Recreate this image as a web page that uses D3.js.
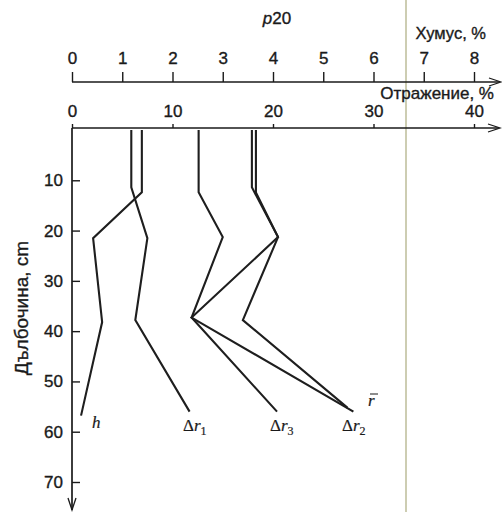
<!DOCTYPE html>
<html>
<head>
<meta charset="utf-8">
<script src="https://cdn.jsdelivr.net/npm/d3@7"></script>
<style>
  body { margin: 0; background: #fff; }
  text { font-family: "Liberation Sans", Arial, sans-serif; fill: #1a1a1a; stroke: #1a1a1a; stroke-width: 0.35px; }
  .lbl { font-family: "Liberation Serif", "Times New Roman", serif; font-style: italic; font-size: 17px; stroke-width: 0.2px; }
</style>
</head>
<body>
<div id="f1"></div>
<script>
const W = 502, H = 512;

// axis ticks
const humusTicks = [0, 1, 2, 3, 4, 5, 6, 7, 8];
const reflTicks = [0, 10, 20, 30, 40];
const depthTicks = [10, 20, 30, 40, 50, 60, 70];

// profiles: depth (cm) and value
const hDepth = [0, 12.4, 21.5, 38.2, 56.8];
const hVal = [1.39, 1.39, 0.42, 0.6, 0.18];          // humus, %
const dr1Depth = [0, 11.4, 21.5, 37.8, 56];
const dr1Val = [5.9, 5.9, 7.5, 6.3, 11.7];           // reflection, %
const dr3Depth = [0, 12.4, 21.3, 37.3, 56];
const dr3Val = [12.6, 12.6, 15.0, 11.9, 20.4];
const dr2Depth = [0, 11.4, 21.3, 37.3, 56];
const dr2Val = [17.9, 17.9, 20.5, 11.9, 28.0];
const rDepth = [0, 12.4, 21.3, 37.8, 55.2];
const rVal = [18.3, 18.3, 20.5, 17.0, 27.4];

const xHum = d3.scaleLinear().domain([0, 8]).range([72, 474]);
const xRef = d3.scaleLinear().domain([0, 40]).range([72, 474]);
const y = d3.scaleLinear().domain([0, 70]).range([130, 482]);

const svg = d3.select("#f1").append("svg").attr("width", W).attr("height", H);

// scan fold line
svg.append("line").attr("x1", 406).attr("x2", 406).attr("y1", 0).attr("y2", H)
   .attr("stroke", "#bdbd98").attr("stroke-width", 1.5);

function arrowHead(x, yy, dir){
    // dir: "right" or "down"
    let p = dir == "right"
        ? [[x - 12, yy - 4], [x, yy], [x - 12, yy + 4]]
        : [[x - 4, yy - 12], [x, yy], [x + 4, yy - 12]];
    svg.append("path").attr("d", d3.line()(p))
       .attr("fill", "none").attr("stroke", "#1a1a1a").attr("stroke-width", 1.3);
}

function styleAxis(g, fs){
    g.select(".domain").remove();
    g.selectAll(".tick line").attr("stroke", "#1a1a1a").attr("stroke-width", 1.4);
    g.selectAll(".tick text").attr("font-size", fs)
     .attr("fill", "#1a1a1a").style("font-family", "Liberation Sans, Arial, sans-serif");
}

// humus axis
const gH = svg.append("g").attr("transform", "translate(0,82)")
    .call(d3.axisTop(xHum).tickValues(humusTicks).tickSize(10).tickPadding(8));
styleAxis(gH, 17);
svg.append("line").attr("x1", 72).attr("x2", 500).attr("y1", 82).attr("y2", 82)
   .attr("stroke", "#1a1a1a").attr("stroke-width", 1.6);
arrowHead(501, 82, "right");

// reflection axis
const gR = svg.append("g").attr("transform", "translate(0,128)")
    .call(d3.axisTop(xRef).tickValues(reflTicks).tickSize(4).tickPadding(7));
styleAxis(gR, 17);
svg.append("line").attr("x1", 72).attr("x2", 499).attr("y1", 128).attr("y2", 128)
   .attr("stroke", "#1a1a1a").attr("stroke-width", 1.6);
arrowHead(500, 128, "right");

// depth axis
const gD = svg.append("g").attr("transform", "translate(72,0)")
    .call(d3.axisLeft(y).tickValues(depthTicks).tickSize(-8).tickPadding(9));
styleAxis(gD, 17);
svg.append("line").attr("x1", 72).attr("x2", 72).attr("y1", 128).attr("y2", 510)
   .attr("stroke", "#1a1a1a").attr("stroke-width", 1.7);
arrowHead(72, 510, "down");

// titles
svg.append("text").attr("x", 277).attr("y", 24).attr("text-anchor", "middle")
   .attr("font-size", 17).html('<tspan font-style="italic">p</tspan>20');
svg.append("text").attr("x", 486).attr("y", 39).attr("text-anchor", "end")
   .attr("font-size", 16.5).text("Хумус, %");
svg.append("text").attr("x", 494).attr("y", 99).attr("text-anchor", "end")
   .attr("font-size", 17).text("Отражение, %");
svg.append("text").attr("transform", "translate(28,308) rotate(-90)")
   .attr("text-anchor", "middle").attr("font-size", 19).text("Дълбочина, cm");

// profiles
const curves = [
    {d: hDepth, v: hVal, x: xHum},
    {d: dr1Depth, v: dr1Val, x: xRef},
    {d: dr3Depth, v: dr3Val, x: xRef},
    {d: dr2Depth, v: dr2Val, x: xRef},
    {d: rDepth, v: rVal, x: xRef},
];
curves.forEach(function(c){
    let pts = c.d.map((dd, i) => [c.x(c.v[i]), y(dd)]);
    svg.append("path").attr("d", d3.line()(pts))
       .attr("fill", "none").attr("stroke", "#1e1e1e").attr("stroke-width", 2.1)
       .attr("stroke-linejoin", "miter");
});

// curve labels
function lbl(x, yy, main, sub){
    let t = svg.append("text").attr("class", "lbl").attr("x", x).attr("y", yy);
    if (main.startsWith("Δ")){
        t.append("tspan").style("font-style", "normal").text("Δ");
        t.append("tspan").text(main.slice(1));
    } else {
        t.append("tspan").text(main);
    }
    if (sub) t.append("tspan").attr("dy", 4).attr("font-size", 12).style("font-style", "normal").text(sub);
}
lbl(92, 428, "h");
lbl(183, 431, "Δr", "1");
lbl(270, 431, "Δr", "3");
lbl(342, 431, "Δr", "2");
lbl(368, 406, "r");
svg.append("line").attr("x1", 370).attr("x2", 378).attr("y1", 394).attr("y2", 394)
   .attr("stroke", "#1a1a1a").attr("stroke-width", 1);
</script>
</body>
</html>
